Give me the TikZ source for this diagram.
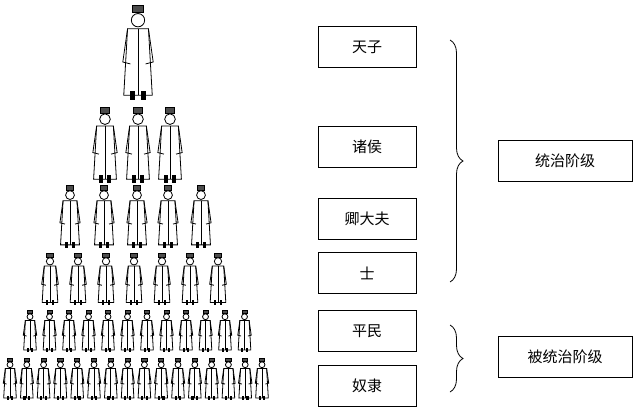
\documentclass[tikz,border=0pt]{standalone}
\usepackage{fontspec}
\newfontfamily\cjk{Noto Sans CJK SC}
\usetikzlibrary{decorations.pathreplacing}
\newcommand\myperson[3]{%
\begin{scope}[shift={(#1,#2)},scale=#3/100,line width=0.8pt]
\filldraw[fill=black!70] (-6,0) rectangle (6,8);
\draw[fill=white] (0,16) circle (7);
\draw[fill=white] (-11,25) -- (11,25) -- (15,95) -- (-15,95) -- cycle;
\draw (-11,25) -- (-16,60) -- (-8,62);
\draw (11,25) -- (16,60) -- (8,62);
\draw (0,25) -- (0,95);
\fill (-8,90) rectangle (-3,100);
\fill (3,90) rectangle (8,100);
\end{scope}}
\tikzset{box/.style={draw,line width=0.6pt,minimum width=98pt,minimum height=41pt,font=\cjk\fontsize{15}{18}\selectfont},
 br/.style={decorate,decoration={brace,amplitude=13pt},line width=0.8pt}}
\begin{document}
\begin{tikzpicture}[x=1pt,y=-1pt]
\useasboundingbox (0,0) rectangle (640,413);
\myperson{138}{5}{95}
\foreach \x in {105,138,170} {\myperson{\x}{107}{76}}
\foreach \x in {70,104,137,168,201} {\myperson{\x}{185}{63}}
\foreach \x in {50,78,106,134,162,190,218} {\myperson{\x}{253}{52}}
\foreach \i in {0,...,11} {\myperson{30+19.5*\i}{310}{42}}
\foreach \i in {0,...,15} {\myperson{10+16.8*\i}{358}{42}}
\node[box] (tz) at (367,47) {天子};
\node[box] (zh) at (367,147) {诸侯};
\node[box] (qd) at (367,219) {卿大夫};
\node[box] (sh) at (367,273) {士};
\node[box] (pm) at (367,331) {平民};
\node[box] (nl) at (367,386) {奴隶};
\node[box,minimum width=134pt] (tzj) at (565,161) {统治阶级};
\node[box,minimum width=134pt] (btz) at (565,357) {被统治阶级};
\coordinate (b1) at (450,40); \coordinate (b2) at (450,282);
\coordinate (b3) at (450,325); \coordinate (b4) at (450,392);
\draw[br] (b1) -- (b2);
\draw[br] (b3) -- (b4);
\end{tikzpicture}
\end{document}
